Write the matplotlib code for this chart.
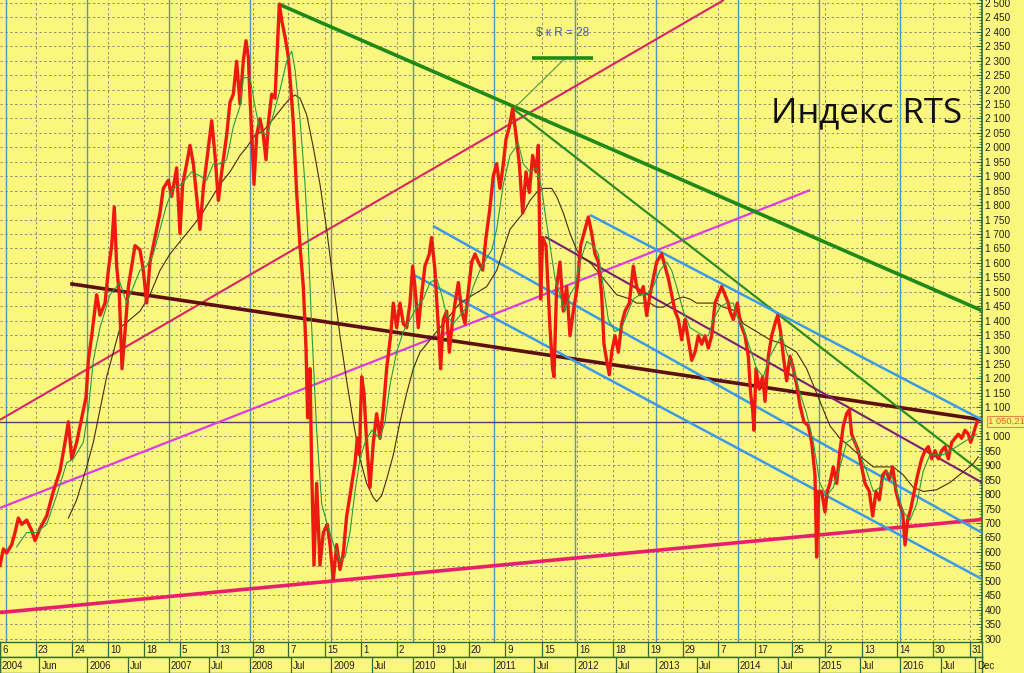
import numpy as np
import matplotlib
matplotlib.use("Agg")
import matplotlib.pyplot as plt
from matplotlib.ticker import MultipleLocator, FuncFormatter
import matplotlib.transforms as mtransforms

# RTS index (time in fractional years)
price_t = [2004.926, 2004.967, 2005.008, 2005.070, 2005.111, 2005.152, 2005.193, 2005.254, 2005.316, 2005.357,
           2005.418, 2005.500, 2005.582, 2005.664, 2005.726, 2005.767, 2005.808, 2005.869, 2005.931, 2005.984,
           2006.013, 2006.054, 2006.115, 2006.156, 2006.218, 2006.259, 2006.300, 2006.332, 2006.361, 2006.394,
           2006.427, 2006.464, 2006.505, 2006.546, 2006.587, 2006.648, 2006.689, 2006.730, 2006.771, 2006.833,
           2006.894, 2006.935, 2006.997, 2007.038, 2007.099, 2007.140, 2007.173, 2007.222, 2007.263, 2007.304,
           2007.345, 2007.386, 2007.427, 2007.489, 2007.530, 2007.571, 2007.612, 2007.653, 2007.714, 2007.755,
           2007.796, 2007.837, 2007.878, 2007.919, 2007.952, 2007.981, 2007.993,
           2008.022, 2008.050, 2008.083, 2008.124, 2008.165, 2008.198, 2008.227, 2008.268, 2008.309, 2008.337,
           2008.362, 2008.391, 2008.432, 2008.473, 2008.501, 2008.534, 2008.575, 2008.616, 2008.657, 2008.690,
           2008.710, 2008.739, 2008.760, 2008.788, 2008.821, 2008.862, 2008.903, 2008.952, 2008.985, 2009.026,
           2009.067, 2009.108, 2009.149, 2009.190, 2009.239, 2009.293, 2009.321, 2009.346, 2009.375, 2009.403,
           2009.436, 2009.477, 2009.518, 2009.559, 2009.600, 2009.641, 2009.682, 2009.731, 2009.764, 2009.805,
           2009.846, 2009.887, 2009.928, 2009.969, 2010.002, 2010.030, 2010.071, 2010.112, 2010.153, 2010.207,
           2010.235, 2010.276, 2010.318, 2010.346, 2010.379, 2010.420, 2010.453, 2010.494, 2010.523, 2010.564,
           2010.605, 2010.646, 2010.687, 2010.728, 2010.769, 2010.810, 2010.863, 2010.904, 2010.945,
           2010.994, 2011.035, 2011.076, 2011.117, 2011.150, 2011.191, 2011.232, 2011.273, 2011.314, 2011.355,
           2011.396, 2011.437, 2011.478, 2011.519, 2011.548, 2011.576, 2011.601, 2011.642, 2011.691, 2011.724,
           2011.740, 2011.773, 2011.814, 2011.855, 2011.896, 2011.937, 2011.978, 2012.027, 2012.068, 2012.122,
           2012.163, 2012.204, 2012.245, 2012.286, 2012.327, 2012.355, 2012.388, 2012.421, 2012.450, 2012.491,
           2012.532, 2012.573, 2012.614, 2012.667, 2012.716, 2012.757, 2012.798, 2012.839, 2012.880, 2012.921,
           2012.962, 2013.003, 2013.065, 2013.106, 2013.147, 2013.188, 2013.229, 2013.270, 2013.311, 2013.352,
           2013.393, 2013.434, 2013.475, 2013.516, 2013.557, 2013.598, 2013.639, 2013.680, 2013.721, 2013.762,
           2013.803, 2013.844, 2013.885,
           2013.905, 2013.946, 2013.995, 2014.036, 2014.090, 2014.131, 2014.159, 2014.184, 2014.200, 2014.225,
           2014.266, 2014.307, 2014.336, 2014.377, 2014.418, 2014.459, 2014.491, 2014.528, 2014.561, 2014.602,
           2014.643, 2014.684, 2014.725, 2014.766, 2014.815, 2014.869, 2014.910, 2014.951, 2014.971, 2014.996,
           2015.033, 2015.074, 2015.102, 2015.135, 2015.176, 2015.217, 2015.258, 2015.299, 2015.340, 2015.373,
           2015.402, 2015.443, 2015.484, 2015.525, 2015.566, 2015.619, 2015.660, 2015.701, 2015.742, 2015.783,
           2015.824, 2015.865, 2015.906, 2015.947, 2015.988, 2016.029, 2016.058, 2016.090, 2016.131, 2016.172,
           2016.213, 2016.263, 2016.304, 2016.345, 2016.386, 2016.427, 2016.468, 2016.509, 2016.550, 2016.591,
           2016.632, 2016.673, 2016.714, 2016.755, 2016.796, 2016.837, 2016.865, 2016.898, 2016.927, 2016.947]
price_v = [553, 610, 596, 625, 667, 717, 695, 710, 674, 639,
           681, 724, 809, 880, 979, 1050, 922, 979, 1064, 1135,
           1263, 1348, 1490, 1419, 1461, 1575, 1660, 1794, 1589, 1490,
           1234, 1362, 1518, 1589, 1660, 1645, 1575, 1461, 1603, 1688,
           1773, 1858, 1886, 1830, 1929, 1702, 1872, 1943, 2007, 1943,
           1830, 1716, 1858, 2000, 2092, 1972, 1816, 1915, 2042, 2156,
           2184, 2298, 2150, 2300, 2369, 2312, 2227,
           2042, 1872, 2042, 2099, 2042, 1957, 2085, 2184, 2170, 2340,
           2496, 2440, 2383, 2312, 2213, 2085, 1844, 1660, 1518, 1305,
           1064, 1234, 880, 554, 837, 554, 667, 695, 625, 504,
           625, 539, 596, 724, 809, 908, 993, 936, 1206, 1149,
           979, 823, 979, 1078, 993, 1092, 1234, 1348, 1461, 1376,
           1461, 1390, 1376, 1461, 1589, 1518, 1376, 1490, 1589, 1631,
           1688, 1575, 1376, 1234, 1404, 1433, 1291, 1404, 1461, 1532,
           1433, 1390, 1504, 1603, 1631, 1603, 1575, 1688, 1773,
           1901, 1943, 1858, 1943, 2028, 2071, 2135, 2042, 1943, 1773,
           1915, 1844, 1972, 1915, 2007, 1475, 1688, 1660, 1376, 1234,
           1206, 1518, 1603, 1433, 1518, 1348, 1433, 1518, 1660, 1716,
           1759, 1702, 1631, 1603, 1490, 1319, 1263, 1213, 1291, 1348,
           1291, 1390, 1433, 1461, 1589, 1518, 1490, 1518, 1418, 1490,
           1546, 1603, 1631, 1589, 1546, 1490, 1433, 1404, 1334, 1404,
           1334, 1263, 1291, 1348, 1319, 1348, 1305, 1348, 1461, 1490,
           1518, 1490, 1461,
           1433, 1404, 1461, 1390, 1348, 1277, 1149, 1092, 1021, 1234,
           1163, 1206, 1121, 1277, 1348, 1390, 1418, 1362, 1277, 1192,
           1277, 1234, 1178, 1107, 1050, 1036, 979, 866, 582, 809,
           809, 738, 809, 837, 894, 837, 950, 1036, 1078, 1092,
           1007, 979, 950, 894, 837, 809, 724, 809, 780, 866,
           880, 851, 894, 809, 766, 738, 624, 709, 752, 809,
           866, 922, 950, 964, 922, 950, 922, 950, 964, 922,
           979, 993, 1007, 993, 1021, 1007, 979, 1007, 1036, 1050]

# short moving average (green)
ma_fast_t = [2005.131, 2005.254, 2005.377, 2005.500, 2005.623, 2005.746, 2005.828, 2005.951, 2006.013, 2006.074,
             2006.156, 2006.279, 2006.402, 2006.484, 2006.566, 2006.648, 2006.730, 2006.812, 2006.894, 2006.976,
             2007.058, 2007.161, 2007.283, 2007.386, 2007.468, 2007.550, 2007.632, 2007.714, 2007.796, 2007.878,
             2007.919, 2008.001, 2008.062, 2008.124, 2008.206, 2008.288, 2008.370, 2008.452, 2008.514, 2008.555,
             2008.616, 2008.678, 2008.719, 2008.760, 2008.821, 2008.883, 2008.965, 2009.047, 2009.108, 2009.170,
             2009.231, 2009.293, 2009.354, 2009.416, 2009.498, 2009.600, 2009.662, 2009.723, 2009.805, 2009.887,
             2009.969, 2010.051, 2010.133, 2010.215, 2010.297, 2010.359, 2010.420, 2010.502, 2010.584, 2010.666,
             2010.748, 2010.830, 2010.912, 2010.974, 2011.035, 2011.117, 2011.199, 2011.302, 2011.363, 2011.445,
             2011.527, 2011.589, 2011.630, 2011.691, 2011.753, 2011.814, 2011.876, 2011.937, 2011.999, 2012.060,
             2012.142, 2012.224, 2012.286, 2012.347, 2012.409, 2012.491, 2012.573, 2012.634, 2012.716, 2012.798,
             2012.880, 2012.962, 2013.044, 2013.126, 2013.188, 2013.249, 2013.331, 2013.413, 2013.495, 2013.577,
             2013.639, 2013.700, 2013.782, 2013.864, 2013.946, 2013.987, 2014.069, 2014.151, 2014.233, 2014.315,
             2014.397, 2014.479, 2014.541, 2014.602, 2014.684, 2014.766, 2014.848, 2014.930, 2015.012, 2015.094,
             2015.176, 2015.258, 2015.340, 2015.422, 2015.504, 2015.586, 2015.668, 2015.750, 2015.832, 2015.914,
             2015.976, 2016.037, 2016.119, 2016.201, 2016.283, 2016.365, 2016.447, 2016.529, 2016.611, 2016.693,
             2016.775, 2016.857, 2016.939]
ma_fast_v = [617, 667, 667, 695, 795, 908, 922, 979, 1092, 1263,
             1376, 1490, 1532, 1461, 1518, 1575, 1589, 1631, 1716, 1802,
             1858, 1872, 1915, 1901, 1886, 1943, 1943, 1957, 2071, 2142,
             2241, 2241, 2142, 2057, 2042, 2113, 2198, 2298, 2333, 2269,
             2099, 1872, 1660, 1376, 1021, 766, 681, 610, 568, 582,
             667, 809, 922, 979, 1021, 993, 1050, 1178, 1291, 1362,
             1404, 1447, 1475, 1532, 1546, 1490, 1418, 1390, 1418, 1447,
             1518, 1575, 1617, 1645, 1716, 1872, 1972, 2014, 1943, 1915,
             1929, 1858, 1773, 1660, 1546, 1490, 1433, 1490, 1518, 1603,
             1674, 1660, 1631, 1518, 1404, 1362, 1376, 1418, 1475, 1490,
             1490, 1518, 1574, 1603, 1574, 1518, 1433, 1376, 1362, 1348,
             1348, 1404, 1447, 1461, 1461, 1418, 1376, 1305, 1234, 1206,
             1277, 1319, 1348, 1291, 1234, 1149, 1078, 979, 837, 794,
             823, 894, 979, 993, 936, 880, 809, 823, 880, 851,
             794, 738, 709, 766, 880, 936, 936, 936, 950, 964,
             979, 993, 1007]

# long moving average (brown)
ma_slow_t = [2005.767, 2005.869, 2005.992, 2006.074, 2006.156, 2006.238, 2006.320, 2006.402, 2006.525, 2006.648,
             2006.771, 2006.894, 2007.017, 2007.140, 2007.263, 2007.386, 2007.509, 2007.632, 2007.755, 2007.878,
             2007.960, 2008.062, 2008.165, 2008.288, 2008.411, 2008.493, 2008.555, 2008.616, 2008.698, 2008.780,
             2008.862, 2008.944, 2009.026, 2009.108, 2009.190, 2009.272, 2009.354, 2009.436, 2009.518, 2009.559,
             2009.621, 2009.682, 2009.764, 2009.846, 2009.928, 2010.010, 2010.092, 2010.174, 2010.256, 2010.338,
             2010.420, 2010.502, 2010.584, 2010.666, 2010.748, 2010.830, 2010.912, 2011.035, 2011.117, 2011.199,
             2011.281, 2011.363, 2011.445, 2011.527, 2011.609, 2011.712, 2011.773, 2011.855, 2011.937, 2012.019,
             2012.101, 2012.183, 2012.265, 2012.347, 2012.429, 2012.511, 2012.675, 2012.757, 2012.921, 2013.003,
             2013.085, 2013.167, 2013.249, 2013.331, 2013.413, 2013.495, 2013.741, 2013.823, 2013.987, 2014.069,
             2014.233, 2014.397, 2014.561, 2014.725, 2014.848, 2014.971, 2015.053, 2015.135, 2015.258, 2015.381,
             2015.545, 2015.668, 2015.914, 2016.037, 2016.160, 2016.283, 2016.447, 2016.611, 2016.775, 2016.898,
             2016.959]
ma_slow_v = [717, 780, 894, 979, 1092, 1206, 1291, 1376, 1404, 1433,
             1490, 1574, 1631, 1674, 1716, 1759, 1816, 1872, 1915, 1972,
             2000, 2042, 2057, 2099, 2142, 2170, 2181, 2170, 2113, 2000,
             1872, 1716, 1532, 1348, 1192, 1050, 922, 837, 788, 774,
             795, 851, 936, 1050, 1149, 1234, 1291, 1319, 1348, 1376,
             1404, 1433, 1461, 1475, 1490, 1504, 1518, 1574, 1645, 1716,
             1745, 1773, 1816, 1844, 1858, 1858, 1830, 1773, 1702, 1645,
             1617, 1603, 1574, 1546, 1518, 1490, 1475, 1461, 1461, 1447,
             1447, 1461, 1475, 1482, 1475, 1461, 1461, 1447, 1433, 1390,
             1362, 1334, 1319, 1291, 1234, 1149, 1092, 1036, 993, 964,
             922, 894, 894, 866, 823, 809, 815, 840, 877, 905,
             929]

# hand-drawn trend lines: (t0, v0, t1, v1, colour, width)
trend_lines = [
    (2004.926, 390, 2017.005, 712, '#e8206c', 2.6),
    (2004.926, 1057, 2013.830, 2510, '#d82468', 1.5),
    (2004.926, 752, 2014.890, 1852, '#dc3ce0', 1.6),
    (2005.790, 1528, 2017.005, 1057, '#5c1010', 2.6),
    (2008.360, 2495, 2017.005, 1435, '#1f8a1a', 2.6),
    (2011.232, 2135, 2017.005, 875, '#2e8c22', 1.6),
    (2011.250, 2135, 2011.876, 2308, '#4a9a30', 0.8),
    (2011.470, 2308, 2012.220, 2308, '#1f8a1a', 2.6),
    (2012.183, 1766, 2017.005, 1057, '#3c9ae6', 1.8),
    (2010.252, 1728, 2017.005, 666, '#3c9ae6', 1.8),
    (2010.006, 1560, 2017.005, 506, '#3c9ae6', 1.8),
    (2011.630, 1691, 2017.005, 840, '#7a2070', 1.5),
]

last_value = 1050.21

# date ticks of the bottom rows
day_ticks = [2004.926, 2005.369, 2005.812, 2006.255, 2006.697, 2007.140, 2007.595, 2008.038, 2008.469, 2008.924,
             2009.367, 2009.809, 2010.252, 2010.695, 2011.138, 2011.593, 2012.023, 2012.466, 2012.897, 2013.327,
             2013.758, 2014.213, 2014.668, 2015.074, 2015.529, 2015.959, 2016.402, 2016.857]
day_labels = ['6', '23', '24', '10', '18', '5', '13', '28', '7', '15', '1', '2', '19', '20',
              '9', '15', '16', '18', '19', '29', '7', '17', '25', '2', '13', '14', '30', '31']
month_ticks = [2004.926, 2005.41, 2006.0, 2006.5, 2007.0, 2007.5, 2008.0, 2008.5, 2009.0, 2009.5,
               2010.0, 2010.5, 2011.0, 2011.5, 2012.0, 2012.5, 2013.0, 2013.5, 2014.0, 2014.5,
               2015.0, 2015.5, 2016.0, 2016.5, 2016.917]
month_labels = ['2004', 'Jun', '2006', 'Jul', '2007', 'Jul', '2008', 'Jul', '2009', 'Jul',
                '2010', 'Jul', '2011', 'Jul', '2012', 'Jul', '2013', 'Jul', '2014', 'Jul',
                '2015', 'Jul', '2016', 'Jul', 'Dec']
year_lines = list(range(2005, 2017))

bg = '#fbf67e'
frame = '#2f6b3a'
t_min, t_max = 2004.926, 2017.005

plt.rcParams['font.family'] = ['Liberation Sans', 'DejaVu Sans']
fig = plt.figure(figsize=(10.24, 6.73), dpi=100, facecolor=bg)
W, H = 1024.0, 673.0
ax = fig.add_axes([0, 31 / H, 982 / W, 642 / H], facecolor=bg)
ax.set_xlim(t_min, t_max)
ax.set_ylim(288, 2510)

# grid
for v in range(300, 2501, 50):
    ax.axhline(v, color='#8f8f78', lw=0.7, ls=(0, (2.5, 2.5)), zorder=0)
for t in day_ticks[1:]:
    ax.axvline(t, color='#8f8f78', lw=0.7, ls=(0, (2.5, 2.5)), zorder=0)
for t in year_lines:
    ax.axvline(t, color='#4f96b8', lw=1.0, zorder=1)

ax.axhline(last_value, color='#5a3c62', lw=1.0, zorder=2)

for t0, v0, t1, v1, c, lw in trend_lines:
    ax.plot([t0, t1], [v0, v1], color=c, lw=lw, zorder=3, solid_capstyle='butt')

ax.plot(ma_slow_t, ma_slow_v, color='#4a2a10', lw=0.8, zorder=4)
ax.plot(price_t, price_v, color='#ec1a10', lw=2.4, zorder=5)
ax.plot(ma_fast_t, ma_fast_v, color='#2a9a46', lw=0.8, zorder=6)

ax.text(2011.85, 2396, '$ к R = 28', color='#4a5cb0', fontsize=8.5, ha='center', va='center')
ax.text(2014.41, 2088, 'Индекс RTS', fontsize=25, family=['Open Sans', 'DejaVu Sans'],
        color='#101010', ha='left', va='baseline')

# right value axis
ax.yaxis.tick_right()
ax.yaxis.set_major_locator(MultipleLocator(50))
ax.yaxis.set_minor_locator(MultipleLocator(10))
ax.yaxis.set_major_formatter(FuncFormatter(
    lambda v, p: '' if int(v) == 1050 else f"{int(v):,}".replace(',', ' ')))
ax.tick_params(axis='y', which='major', direction='in', length=4, width=0.8, color=frame,
               labelsize=7.2, pad=2, labelcolor='#222222')
ax.tick_params(axis='y', which='minor', direction='in', length=2, width=0.6, color=frame)
ax.set_xticks([])
for s in ['top', 'left', 'bottom']:
    ax.spines[s].set_visible(False)
ax.spines['right'].set_color(frame)
ax.spines['right'].set_linewidth(1.2)

trans = mtransforms.blended_transform_factory(ax.transAxes, ax.transData)
ax.text(1.006, last_value, '1 050,21', transform=trans, color='#e0641a', fontsize=6.8,
        ha='left', va='center', clip_on=False,
        bbox=dict(boxstyle='square,pad=0.12', fc=bg, ec='#e08a50', lw=0.8), zorder=10)

# two date rows under the chart
def date_row(rect, ticks, labels):
    a = fig.add_axes(rect, facecolor=bg)
    a.set_xlim(t_min, t_max)
    a.set_ylim(0, 1)
    a.set_xticks([])
    a.set_yticks([])
    for s in a.spines.values():
        s.set_color(frame)
        s.set_linewidth(1.0)
    for t, lab in zip(ticks, labels):
        a.axvline(t, color=frame, lw=0.9)
        a.text(t + 0.025, 0.45, lab, fontsize=7, color='#202020', ha='left', va='center', clip_on=False)
    return a

date_row([0, 16 / H, 982 / W, 15 / H], day_ticks, day_labels)
date_row([0, 0, 982 / W, 16 / H], month_ticks, month_labels)

fig.savefig('out.png', dpi=100, facecolor=bg)
